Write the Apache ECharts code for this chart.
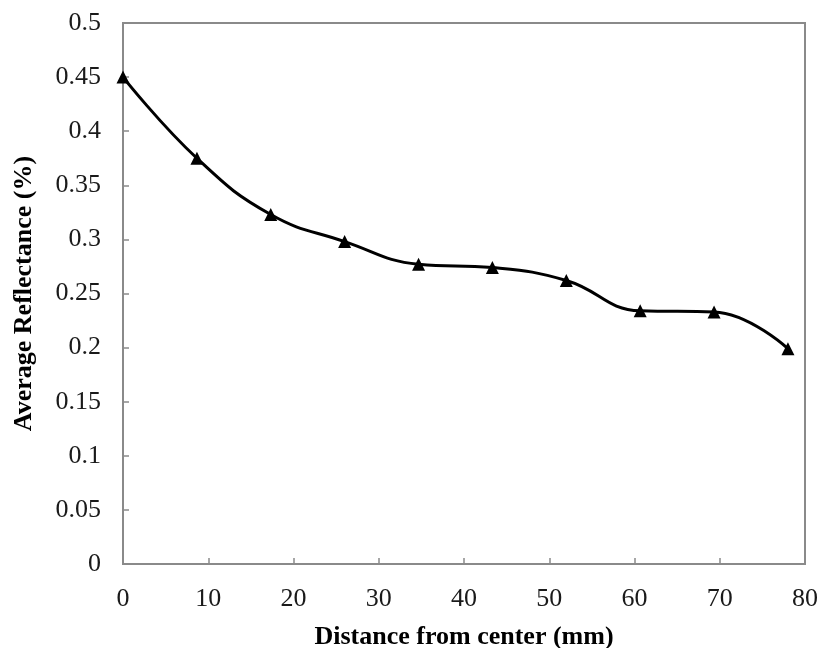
<!DOCTYPE html>
<html>
<head>
<meta charset="utf-8">
<script src="https://cdn.jsdelivr.net/npm/echarts@6/dist/echarts.min.js"></script>
<style>html,body{margin:0;padding:0;background:#fff;}#c{width:820px;height:648px;}</style>
</head>
<body>
<div id="c"></div>
<script>
const distances = [0, 8.67, 17.33, 26, 34.67, 43.33, 52, 60.67, 69.33, 78];
const reflectance = [0.45, 0.375, 0.323, 0.298, 0.277, 0.274, 0.262, 0.234, 0.233, 0.199];
const xTitle = 'Distance from center (mm)';
const yTitle = 'Average Reflectance (%)';

const chart = echarts.init(document.getElementById('c'));
const font = 'Liberation Serif, Times New Roman, serif';
const axisColor = '#8a8a8a';
chart.setOption({
  backgroundColor: '#fff',
  animation: false,
  grid: { left: 123, right: 15, top: 23, bottom: 84, show: true, borderColor: axisColor, borderWidth: 2,
    containLabel: false, outerBoundsMode: 'none' },
  xAxis: {
    type: 'value', min: 0, max: 80, interval: 10,
    name: xTitle, nameLocation: 'middle', nameGap: 60,
    nameTextStyle: { fontFamily: font, fontWeight: 'bold', fontSize: 26, color: '#000' },
    axisLine: { show: true, lineStyle: { color: axisColor, width: 2 } },
    axisTick: { show: true, inside: true, length: 6, lineStyle: { color: axisColor, width: 1.5 } },
    axisLabel: { fontFamily: font, fontSize: 26, color: '#1a1a1a', margin: 22 },
    splitLine: { show: false }
  },
  yAxis: {
    type: 'value', min: 0, max: 0.5, interval: 0.05,
    name: yTitle, nameLocation: 'middle', nameGap: 86,
    nameTextStyle: { fontFamily: font, fontWeight: 'bold', fontSize: 26, color: '#000' },
    axisLine: { show: true, lineStyle: { color: axisColor, width: 2 } },
    axisTick: { show: true, inside: true, length: 6, lineStyle: { color: axisColor, width: 1.5 } },
    axisLabel: { fontFamily: font, fontSize: 26, color: '#1a1a1a', margin: 22,
      formatter: v => String(+v.toFixed(2)) },
    splitLine: { show: false }
  },
  series: [{
    type: 'line',
    data: distances.map((d, i) => [d, reflectance[i]]),
    smooth: 0.45,
    symbol: 'triangle', symbolSize: 13,
    itemStyle: { color: '#000' },
    lineStyle: { color: '#000', width: 3 },
    clip: false
  }]
});
</script>
</body>
</html>
